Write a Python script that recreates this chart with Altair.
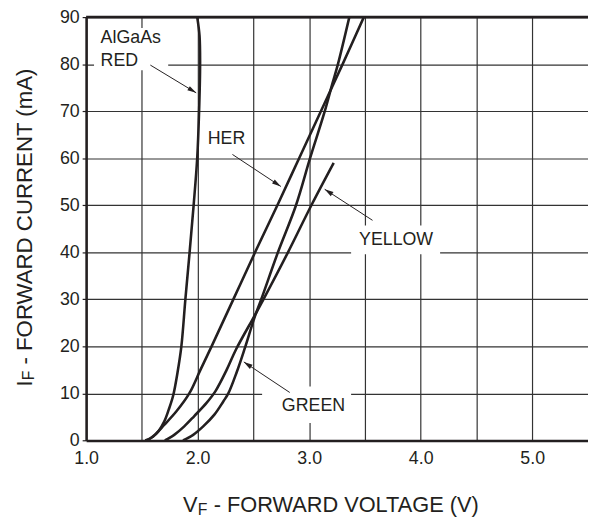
import math
import altair as alt
import pandas as pd

# ---- data (V = forward voltage, I = forward current mA)
red_v = [1.53, 1.60, 1.65, 1.70, 1.74, 1.78, 1.82, 1.854, 1.89, 1.928, 1.964, 1.996, 2.013, 2.022, 2.017, 1.996]
red_i = [0, 0.8, 2, 4, 6.5, 9.5, 14.5, 20, 30, 40, 50, 60, 70, 80, 86, 90]
her_v = [1.55, 1.62, 1.70, 1.81, 1.925, 2.025, 2.125, 2.32, 2.515, 2.715, 2.91, 3.105, 3.30, 3.49]
her_i = [0, 1.3, 3.3, 6.2, 10, 15, 20, 30, 40, 50, 60, 70, 80, 90]
yel_v = [1.706, 1.79, 1.88, 1.97, 2.08, 2.16, 2.26, 2.345, 2.51, 2.59, 2.81, 3.02, 3.22]
yel_i = [0, 1.2, 3, 5.2, 8, 10.5, 15, 19.4, 26.5, 30, 40, 50, 59]
grn_v = [1.869, 1.96, 2.05, 2.15, 2.23, 2.275, 2.35, 2.42, 2.515, 2.57, 2.72, 2.882, 3.008, 3.14, 3.21, 3.258, 3.36]
grn_i = [0, 1.2, 3, 5.5, 8.3, 10, 14.5, 19.4, 26.5, 30, 40, 50, 60, 70, 76, 80, 90]

x_ticks = [1.0, 1.5, 2.0, 2.5, 3.0, 3.5, 4.0, 4.5, 5.0]
y_ticks = [0, 10, 20, 30, 40, 50, 60, 70, 80, 90]

lab_text = ["AlGaAs", "RED", "HER", "YELLOW", "GREEN"]
lab_v = [1.130, 1.130, 2.09, 3.447, 2.755]
lab_i = [85.5, 80.7, 64.1, 42.5, 7.4]

box_v1 = [1.071, 3.376, 2.578]
box_v2 = [1.736, 4.174, 3.376]
box_i1 = [78.7, 39.6, 3.7]
box_i2 = [87.7, 45.7, 11.5]

arr_tail_v = [1.576, 2.312, 3.568, 2.826]
arr_tail_i = [79.8, 60.8, 46.8, 10.2]
arr_tip_v = [1.987, 2.746, 3.139, 2.414]
arr_tip_i = [73.9, 54.0, 53.4, 16.7]

# ---- styling
FONT = "Liberation Sans"
INK = "#231f20"
W, H = 507.6, 428.2
PX_V = W / 4.5
PX_I = H / 90.0

rows = []
for name, vs, is_ in [("AlGaAs RED", red_v, red_i), ("HER", her_v, her_i),
                      ("YELLOW", yel_v, yel_i), ("GREEN", grn_v, grn_i)]:
    for v, i in zip(vs, is_):
        rows.append({"series": name, "v": v, "i": i})
curves = pd.DataFrame(rows)

labels = pd.DataFrame({"t": lab_text, "v": lab_v, "i": lab_i})
boxes = pd.DataFrame({"v": box_v1, "v2": box_v2, "i": box_i1, "i2": box_i2})
angles = []
for tv, ti, hv, hi in zip(arr_tail_v, arr_tail_i, arr_tip_v, arr_tip_i):
    dx = (hv - tv) * PX_V
    dy = -(hi - ti) * PX_I
    angles.append(math.degrees(math.atan2(dx, -dy)) % 360)
arrows = pd.DataFrame({"v": arr_tail_v, "i": arr_tail_i, "v2": arr_tip_v,
                       "i2": arr_tip_i, "ang": angles})
border = pd.DataFrame({"v": [1.0], "v2": [5.5], "i": [90]})

xs = alt.Scale(domain=[1.0, 5.5], nice=False, zero=False)
ys = alt.Scale(domain=[0, 90], nice=False, zero=False)
xaxis = alt.Axis(values=x_ticks, title=None, grid=True, gridColor="#333333", gridWidth=1.2,
                 labelExpr="datum.value % 1 == 0 ? format(datum.value, '.1f') : ''",
                 domainColor=INK, domainWidth=2.6, ticks=False, labelPadding=9,
                 labelFont=FONT, labelFontSize=18, labelColor=INK, labelFlush=False,
                 labelOverlap=False)
yaxis = alt.Axis(values=y_ticks, title=None, grid=True, gridColor="#333333", gridWidth=1.2,
                 domainColor=INK, domainWidth=2.6, ticks=True, tickSize=4, tickColor=INK,
                 tickWidth=1.2, labelPadding=3, labelFont=FONT, labelFontSize=18,
                 labelColor=INK, labelFlush=False, labelOverlap=False)
X = alt.X("v:Q", scale=xs, axis=xaxis)
Y = alt.Y("i:Q", scale=ys, axis=yaxis)

box_layer = alt.Chart(boxes).mark_rect(color="white").encode(
    x=X, x2="v2:Q", y=Y, y2="i2:Q")

top_border = alt.Chart(border).mark_rule(color=INK, strokeWidth=2.6).encode(
    x=X, x2="v2:Q", y=Y)

curve_layer = alt.Chart(curves).mark_line(
    color=INK, strokeWidth=2.6, interpolate="catmull-rom", clip=True).encode(
    x=X, y=Y, detail="series:N", order="i:Q")

arrow_lines = alt.Chart(arrows).mark_rule(color=INK, strokeWidth=1).encode(
    x=X, y=Y, x2="v2:Q", y2="i2:Q")

arrow_heads = alt.Chart(arrows).mark_point(
    shape="M0,0L-0.55,2L0.55,2Z", filled=True, color=INK, size=81, opacity=1).encode(
    x=alt.X("v2:Q", scale=xs, axis=xaxis), y=alt.Y("i2:Q", scale=ys, axis=yaxis),
    angle=alt.Angle("ang:Q", scale=None))

label_layer = alt.Chart(labels).mark_text(
    align="left", baseline="middle", font=FONT, fontSize=18, color=INK).encode(
    x=X, y=Y, text="t:N")

one = alt.Data(values=[{}])

def txt(s, x, y, size, angle=0):
    kw = dict(align="left", baseline="alphabetic", font=FONT, fontSize=size, color=INK, text=s)
    if angle:
        kw["angle"] = angle
    return alt.Chart(one).mark_text(**kw).encode(x=alt.value(x), y=alt.value(y))

# axis titles with subscript F
x_title = [txt("V", 98, 500.7, 22), txt("F", 113, 503.7, 16),
           txt("- FORWARD VOLTAGE (V)", 129, 500.7, 22)]
y_title = [txt("I", -55, 373.7, 22.5, 270), txt("F", -52.5, 367.4, 16, 270),
           txt("- FORWARD CURRENT (mA)", -55, 351.4, 22.5, 270)]

chart = alt.layer(
    box_layer, curve_layer, top_border, arrow_lines, arrow_heads, label_layer,
    *x_title, *y_title
).properties(
    width=W, height=H,
    autosize=alt.AutoSizeParams(type="none"),
    padding={"left": 79, "top": 6.3, "right": 0, "bottom": 76},
).configure_view(stroke=None)

chart.save("out.html", embed_options={"renderer": "svg", "actions": False})
